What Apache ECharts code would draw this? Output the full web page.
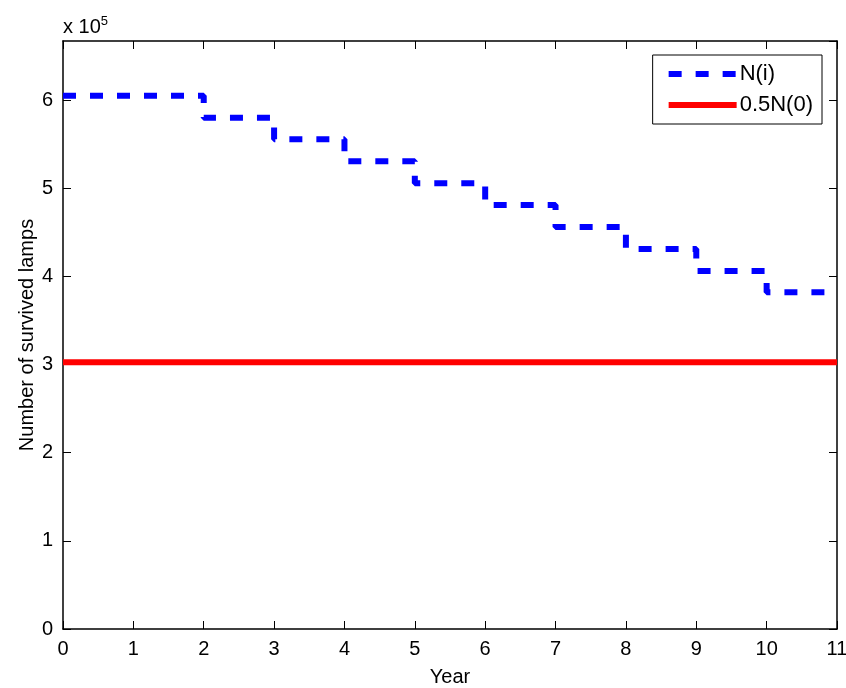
<!DOCTYPE html>
<html><head><meta charset="utf-8">
<script src="https://cdn.jsdelivr.net/npm/echarts@6/dist/echarts.min.js"></script>
<style>html,body{margin:0;padding:0;background:#fff}#c{width:846px;height:688px}</style>
</head><body><div id="c"></div>
<script>
const years = [0,1,2,3,4,5,6,7,8,9,10,11];
const survived = [605000,605000,580000,555500,530500,505500,481000,456000,431000,406000,382000,382000];
const halfN0 = 302500;
const xTicks = [0,1,2,3,4,5,6,7,8,9,10,11];
const yTickLabels = ['0','1','2','3','4','5','6'];

const FONT = 'Liberation Sans, Arial, Helvetica, sans-serif';
const chart = echarts.init(document.getElementById('c'));
const axisCommon = {
  axisLine:{show:true,onZero:false,lineStyle:{color:'#000',width:1.5}},
  axisTick:{show:true,inside:true,length:8,lineStyle:{color:'#000',width:1}},
  splitLine:{show:false}
};
const dash = [13,14];
chart.setOption({
  animation:false,
  grid:{left:63,right:9,top:41,bottom:59,outerBoundsMode:'none',containLabel:false},
  title:{text:'x 10{s|5}',left:63,top:15,padding:0,textStyle:{fontFamily:FONT,fontSize:20,fontWeight:'normal',color:'#000',rich:{s:{fontFamily:FONT,fontSize:13,verticalAlign:'top',padding:[0,0,12,0],color:'#000'}}}},
  legend:{right:24,top:55,orient:'vertical',itemWidth:68,itemHeight:14,itemGap:9,
    borderColor:'#000',borderWidth:1,padding:[8,9,8,13],backgroundColor:'#fff',
    textStyle:{fontFamily:FONT,fontSize:22,color:'#000',padding:[0,0,0,-2]},
    itemStyle:{opacity:0},
    data:[
      {name:'N(i)',lineStyle:{color:'#0000ff',width:6,type:dash}},
      {name:'0.5N(0)',lineStyle:{color:'#ff0000',width:6,type:'solid'}}
    ]},
  xAxis:[
    Object.assign({type:'value',min:0,max:11,interval:1,position:'bottom',
      name:'Year',nameLocation:'middle',nameGap:38,nameMoveOverlap:false,
      nameTextStyle:{fontFamily:FONT,fontSize:20,color:'#000'},
      axisLabel:{fontFamily:FONT,fontSize:20,color:'#000',margin:10,
        formatter:v=>xTicks.includes(v)?String(v):''}},axisCommon),
    Object.assign({type:'value',min:0,max:11,interval:1,position:'top',axisLabel:{show:false}},axisCommon)
  ],
  yAxis:[
    Object.assign({type:'value',min:0,max:667000,interval:100000,position:'left',
      name:'Number of survived lamps',nameLocation:'middle',nameGap:26,nameRotate:90,nameMoveOverlap:false,
      nameTextStyle:{fontFamily:FONT,fontSize:20,color:'#000'},
      axisLabel:{fontFamily:FONT,fontSize:20,color:'#000',margin:10,showMaxLabel:false,
        formatter:v=>{const i=Math.round(v/100000);return (v%100000===0&&yTickLabels[i]!==undefined)?yTickLabels[i]:'';}}},axisCommon),
    Object.assign({type:'value',min:0,max:667000,interval:100000,position:'right',axisLabel:{show:false}},axisCommon)
  ],
  series:[
    {name:'N(i)',type:'line',step:'end',symbol:'none',
      data:years.map((x,i)=>[x,survived[i]]),
      lineStyle:{color:'#0000ff',width:6,type:dash,cap:'butt'},itemStyle:{color:'#0000ff'}},
    {name:'0.5N(0)',type:'line',symbol:'none',
      data:[[xTicks[0],halfN0],[xTicks[xTicks.length-1],halfN0]],
      lineStyle:{color:'#ff0000',width:6},itemStyle:{color:'#ff0000'}},
    {name:'_frame',type:'line',xAxisIndex:1,yAxisIndex:1,data:[],symbol:'none',silent:true}
  ]
});
</script></body></html>
